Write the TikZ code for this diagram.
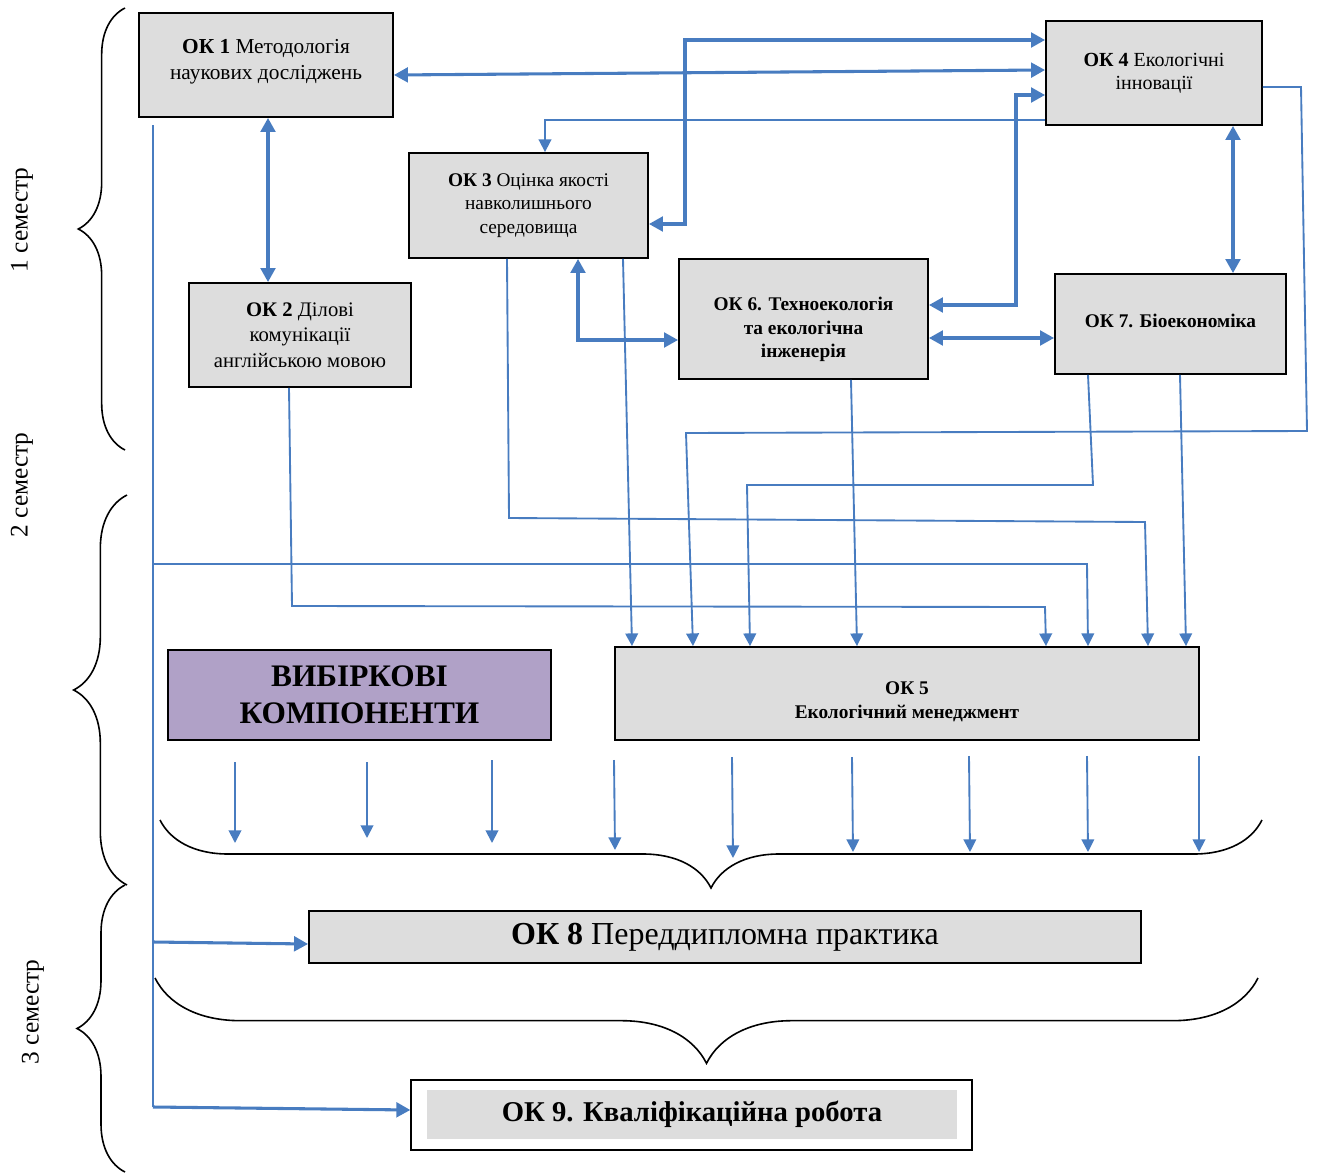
\documentclass[tikz,border=0pt]{standalone}
\usepackage{fontspec}
\setmainfont{Liberation Serif}
\usetikzlibrary{arrows.meta}
\usetikzlibrary{decorations.pathreplacing}
\definecolor{okblue}{RGB}{72,124,192}
\definecolor{okgray}{RGB}{221,221,221}
\definecolor{vkpurple}{RGB}{176,161,199}

\begin{document}
\begin{tikzpicture}[x=0.75pt,y=-0.75pt,
    okbox/.style={draw=black, line width=1.4pt, fill=okgray, align=center, inner sep=0pt},
    thickboth/.style={okblue, line width=2.3pt, >={Triangle[length=10.5pt,width=11pt]}, <->},
    thickarrow/.style={okblue, line width=2.3pt, >={Triangle[length=10.5pt,width=11pt]}, ->},
    thinarrow/.style={okblue, line width=1.4pt, >={Triangle[length=9.5pt,width=9.5pt]}, ->},
    thinline/.style={okblue, line width=1.2pt},
    semlabel/.style={rotate=90, font=\fontsize{19}{23}\selectfont},
    semesterbrace/.style={decorate, decoration={brace, amplitude=#1}, line width=1.2pt}]
    \useasboundingbox (0,0) rectangle (1321,1174);

    %Shape: Rectangle [ok1]
    \node[okbox, minimum width=190.5pt, minimum height=78pt, text height=24.5pt, font=\fontsize{16}{19.5}\selectfont] (ok1) at (266,65) {\textbf{ОК 1} Методологія\\наукових досліджень};
    %Shape: Rectangle [ok4]
    \node[okbox, minimum width=162pt, minimum height=78pt, font=\fontsize{15}{17.5}\selectfont] (ok4) at (1154,73) {\textbf{ОК 4} Екологічні\\інновації};
    %Shape: Rectangle [ok3]
    \node[okbox, minimum width=179.25pt, minimum height=78.75pt, font=\fontsize{14.5}{17.5}\selectfont] (ok3) at (528.5,205.5) {\textbf{ОК 3} Оцінка якості\\навколишнього\\середовища};
    %Shape: Rectangle [ok2]
    \node[okbox, minimum width=166.5pt, minimum height=78pt, font=\fontsize{15.5}{19}\selectfont] (ok2) at (300,335) {\textbf{ОК 2} Ділові\\комунікації\\англійською мовою};
    %Shape: Rectangle [ok6]
    \node[okbox, minimum width=186.75pt, minimum height=90pt, text height=61pt, font=\bfseries\fontsize{14.5}{17.5}\selectfont] (ok6) at (803.5,319) {ОК 6. Техноекологія\\та екологічна\\інженерія};
    %Shape: Rectangle [ok7]
    \node[okbox, minimum width=173.25pt, minimum height=75pt, text height=5pt, font=\bfseries\fontsize{14.5}{17.5}\selectfont] (ok7) at (1170.5,324) {ОК 7. Біоекономіка};
    %Shape: Rectangle [vk]
    \node[okbox, fill=vkpurple, minimum width=287.25pt, minimum height=67.5pt, font=\bfseries\fontsize{23.5}{28}\selectfont] (vk) at (359.5,695) {ВИБІРКОВІ\\КОМПОНЕНТИ};
    %Shape: Rectangle [ok5]
    \node[okbox, minimum width=438pt, minimum height=69.75pt, text height=39.5pt, font=\bfseries\fontsize{14.5}{17.5}\selectfont] (ok5) at (907,693.5) {ОК 5\\Екологічний менеджмент};
    %Shape: Rectangle [ok8]
    \node[okbox, minimum width=624pt, minimum height=39pt, font=\fontsize{24}{28}\selectfont] (ok8) at (725,937) {\textbf{ОК 8} Переддипломна практика};
    %Shape: Rectangle [ok9]
    \node[draw=black, line width=1pt, fill=white, minimum width=420.75pt, minimum height=52.5pt] (ok9frame) at (691.5,1115) {};
    \node[fill=okgray, minimum width=397.5pt, minimum height=36.75pt, inner sep=0pt, font=\bfseries\fontsize{21.5}{24}\selectfont] (ok9) at (692,1114.5) {ОК 9. Кваліфікаційна робота};

    % Text Node
    \node[semlabel] (sem1) at (22,220) {1 семестр};
    % Text Node
    \node[semlabel] (sem2) at (22,485) {2 семестр};
    % Text Node
    \node[semlabel] (sem3) at (33,1012) {3 семестр};

    %Braces
    \draw[semesterbrace=35pt] (125,450) -- (125,8);
    \draw[semesterbrace=40pt] (127,885) -- (127,495);
    \draw[semesterbrace=36pt] (125,1172) -- (125,885);
    \draw[semesterbrace=51pt] (1262,820) -- (160,820);
    \draw[semesterbrace=64pt] (1258,978) -- (155,978);

    %Straight Lines [thick]
    \draw[thickboth] (ok1.east |- 0,75) -- (ok4.west |- 0,70);
    \draw[thickboth] (ok1.south -| 268,0) -- (ok2.north -| 268,0);
    \draw[thickboth] (ok3.east |- 0,224) -- (685,224) -- (685,40) -- (ok4.west |- 0,40);
    \draw[thickboth] (ok6.east |- 0,305) -- (1016,305) -- (1016,95) -- (ok4.west |- 0,95);
    \draw[thickboth] (ok6.east |- 0,338) -- (ok7.west |- 0,338);
    \draw[thickboth] (ok4.south -| 1233,0) -- (ok7.north -| 1233,0);
    \draw[thickboth] (ok3.south -| 578,0) -- (578,340) -- (ok6.west |- 0,340);
    \draw[thinarrow] (ok4.west |- 0,120) -- (545,120) -- (ok3.north -| 545,0);

    %Straight Lines [to ok5]
    \draw[thinarrow] (ok3.south -| 507,0) -- (509,518) -- (1145,522) -- (ok5.north -| 1148,0);
    \draw[thinarrow] (ok3.south -| 623,0) -- (ok5.north -| 632,0);
    \draw[thinarrow] (ok4.east |- 0,87) -- (1301,87) -- (1307,431) -- (686,433) -- (ok5.north -| 693,0);
    \draw[thinarrow] (ok6.south -| 851,0) -- (ok5.north -| 857,0);
    \draw[thinarrow] (ok7.south -| 1088,0) -- (1093,485) -- (747,485) -- (ok5.north -| 750,0);
    \draw[thinarrow] (ok7.south -| 1180,0) -- (ok5.north -| 1186,0);
    \draw[thinarrow] (ok2.south -| 289,0) -- (292,606) -- (1045,607) -- (ok5.north -| 1046,0);

    %Straight Lines [spine]
    \coordinate (spine top) at (153,125);
    \coordinate (spine bottom) at (153,1107);
    \draw[thinline] (spine top) -- (spine bottom);
    \draw[thinarrow] (spine top |- 0,564) -- (1087,564) -- (ok5.north -| 1088,0);
    \draw[thickarrow] (spine top |- 0,942) -- (ok8.west |- 0,944);
    \draw[thickarrow] (spine bottom) -- (ok9frame.west |- 0,1110);

    %Straight Lines [to brace]
    \draw[thinarrow] (235,762) -- (235,843);
    \draw[thinarrow] (367,762) -- (367,838);
    \draw[thinarrow] (492,760) -- (492,843);
    \draw[thinarrow] (614,760) -- (615,850);
    \draw[thinarrow] (732,757) -- (733,858);
    \draw[thinarrow] (852,757) -- (853,852);
    \draw[thinarrow] (969,756) -- (970,852);
    \draw[thinarrow] (1087,756) -- (1088,852);
    \draw[thinarrow] (1199,756) -- (1199,852);

\end{tikzpicture}
\end{document}
